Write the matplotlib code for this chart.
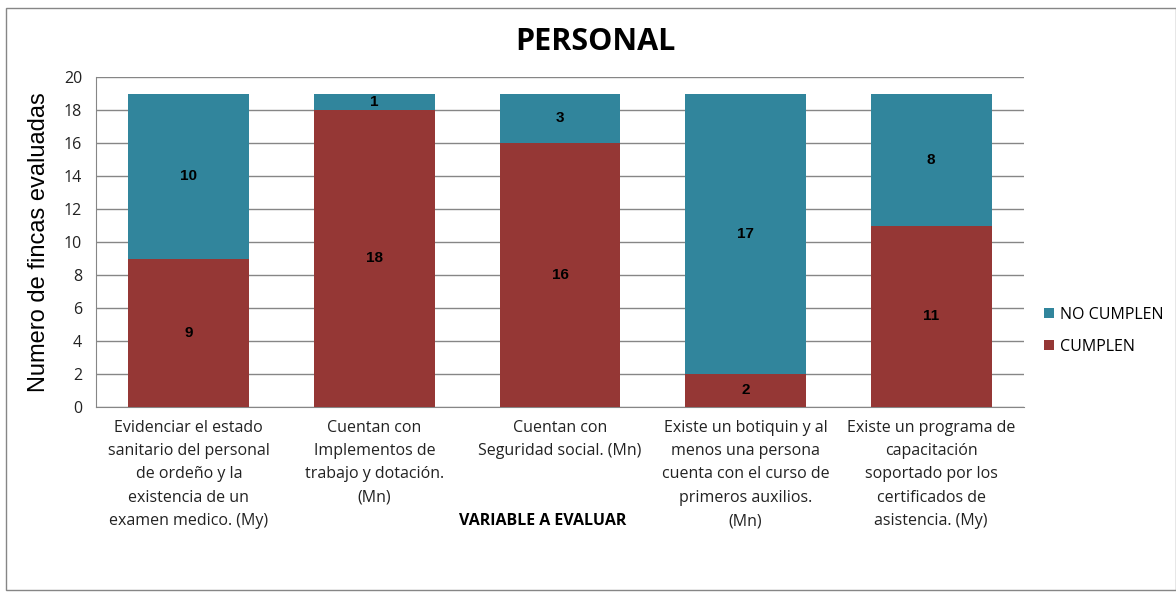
import matplotlib
matplotlib.use("Agg")
import matplotlib.pyplot as plt
from matplotlib.patches import Rectangle

categories = [
    "Evidenciar el estado\nsanitario del personal\nde ordeño y la\nexistencia de un\nexamen medico. (My)",
    "Cuentan con\nImplementos de\ntrabajo y dotación.\n(Mn)",
    "Cuentan con\nSeguridad social. (Mn)",
    "Existe un botiquin y al\nmenos una persona\ncuenta con el curso de\nprimeros auxilios.\n(Mn)",
    "Existe un programa de\ncapacitación\nsoportado por los\ncertificados de\nasistencia. (My)",
]
cumplen = [9, 18, 16, 2, 11]
no_cumplen = [10, 1, 3, 17, 8]
yticks = [0, 2, 4, 6, 8, 10, 12, 14, 16, 18, 20]

red = "#953735"
teal = "#31859C"
font = "Liberation Sans"
tfont = "Open Sans"

fig = plt.figure(figsize=(11.76, 5.94), dpi=100)
fig.patches.append(Rectangle((6/1176, 4/594), 1 - 6/1176, 1 - 12/594, transform=fig.transFigure,
                             fill=False, edgecolor="#868686", linewidth=1))
ax = fig.add_axes([96/1176, 1 - 407/594, (1024-96)/1176, (407-77)/594])

x = list(range(len(categories)))
w = 0.65
b1 = ax.bar(x, cumplen, w, color=red, label="CUMPLEN", zorder=3)
b2 = ax.bar(x, no_cumplen, w, bottom=cumplen, color=teal, label="NO CUMPLEN", zorder=3)

for i in x:
    ax.text(i, cumplen[i] / 2, str(cumplen[i]), ha="center", va="center",
            fontsize=11, fontweight="bold", family=font, zorder=4)
    ax.text(i, cumplen[i] + no_cumplen[i] / 2, str(no_cumplen[i]), ha="center", va="center",
            fontsize=11, fontweight="bold", family=font, zorder=4)

ax.set_xlim(-0.5, len(categories) - 0.5)
ax.set_ylim(0, 20)
ax.set_yticks(yticks)
ax.set_yticklabels([str(v) for v in yticks], family=tfont, fontsize=11.5, color="#222222")
ax.yaxis.grid(True, color="#868686", linewidth=1, zorder=0)
ax.set_axisbelow(True)
ax.set_xticks(x)
ax.set_xticklabels(categories, family=tfont, fontsize=11.5, linespacing=1.62, va="top", color="#222222")
ax.tick_params(axis="x", length=0, pad=9)
ax.tick_params(axis="y", length=0, pad=10)
for s in ["top", "right"]:
    ax.spines[s].set_visible(False)
ax.spines["left"].set_color("#868686")
ax.spines["bottom"].set_color("#868686")

ax.set_ylabel("Numero de fincas evaluadas", family=font, fontsize=17, labelpad=10)
fig.text(543/1176, 1 - 521/594, "VARIABLE A EVALUAR", ha="center", va="center",
         family=tfont, fontsize=11.5, fontweight="bold")
fig.text(595/1176, 1 - 42/594, "PERSONAL", ha="center", va="center",
         family=tfont, fontsize=22, fontweight="bold")

leg = fig.legend(handles=[b2, b1], labels=["NO CUMPLEN", "CUMPLEN"],
                 loc="center left", bbox_to_anchor=(1030/1176, 1 - 331/594),
                 frameon=False, prop={"family": tfont, "size": 11.5},
                 handlelength=0.6, handleheight=0.6, handletextpad=0.4, labelspacing=1.0)

fig.savefig("out.png", dpi=100)
